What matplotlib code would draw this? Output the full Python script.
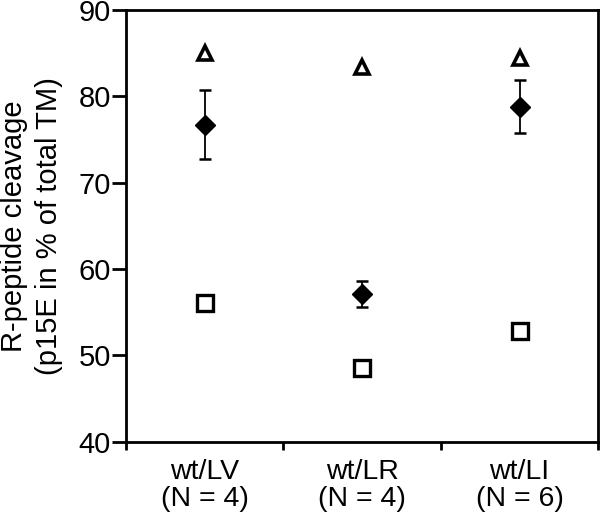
import matplotlib
matplotlib.use("Agg")
import matplotlib.pyplot as plt
import numpy as np

groups = ["wt/LV\n(N = 4)", "wt/LR\n(N = 4)", "wt/LI\n(N = 6)"]
triangles = [85.0, 83.4, 84.4]
squares = [56.1, 48.6, 52.8]
diamonds = [76.7, 57.1, 78.8]
diamond_err = [4.0, 1.5, 3.1]
yticks = [40, 50, 60, 70, 80, 90]

plt.rcParams["font.family"] = ["Liberation Sans", "DejaVu Sans"]

fig = plt.figure(figsize=(6, 5.18), dpi=100)
ax = fig.add_axes([0.21, 0.147, 0.787, 0.834])
x = np.arange(len(groups)) + 0.5

ax.plot(x, triangles, ls="none", marker="^", ms=10.5, mfc="white", mec="black", mew=2.6)
ax.plot(x, squares, ls="none", marker="s", ms=12, mfc="white", mec="black", mew=2.4)
ax.errorbar(x, diamonds, yerr=diamond_err, ls="none", marker="D", ms=10, mfc="black", mec="black",
            ecolor="black", elinewidth=1.3, capsize=4, capthick=1.8)

ax.set_xlim(0, 3); ax.set_ylim(40, 90)
ax.set_xticks([0, 1, 2, 3]); ax.set_xticklabels([])
ax.set_xticks(x, minor=True); ax.set_xticklabels(groups, minor=True, fontsize=20.5, linespacing=1.05)
ax.tick_params(axis="x", which="minor", length=0, pad=12)
ax.tick_params(axis="x", which="major", length=6, width=2, direction="out")
ax.set_yticks(yticks); ax.set_yticklabels([str(v) for v in yticks], fontsize=21)
ax.tick_params(axis="y", length=10, width=2, direction="out", pad=1)
for s in ax.spines.values():
    s.set_linewidth(2)
ax.set_ylabel("R-peptide cleavage\n(p15E in % of total TM)", fontsize=21, linespacing=1.3, labelpad=11)

fig.savefig("out.png", dpi=100)
